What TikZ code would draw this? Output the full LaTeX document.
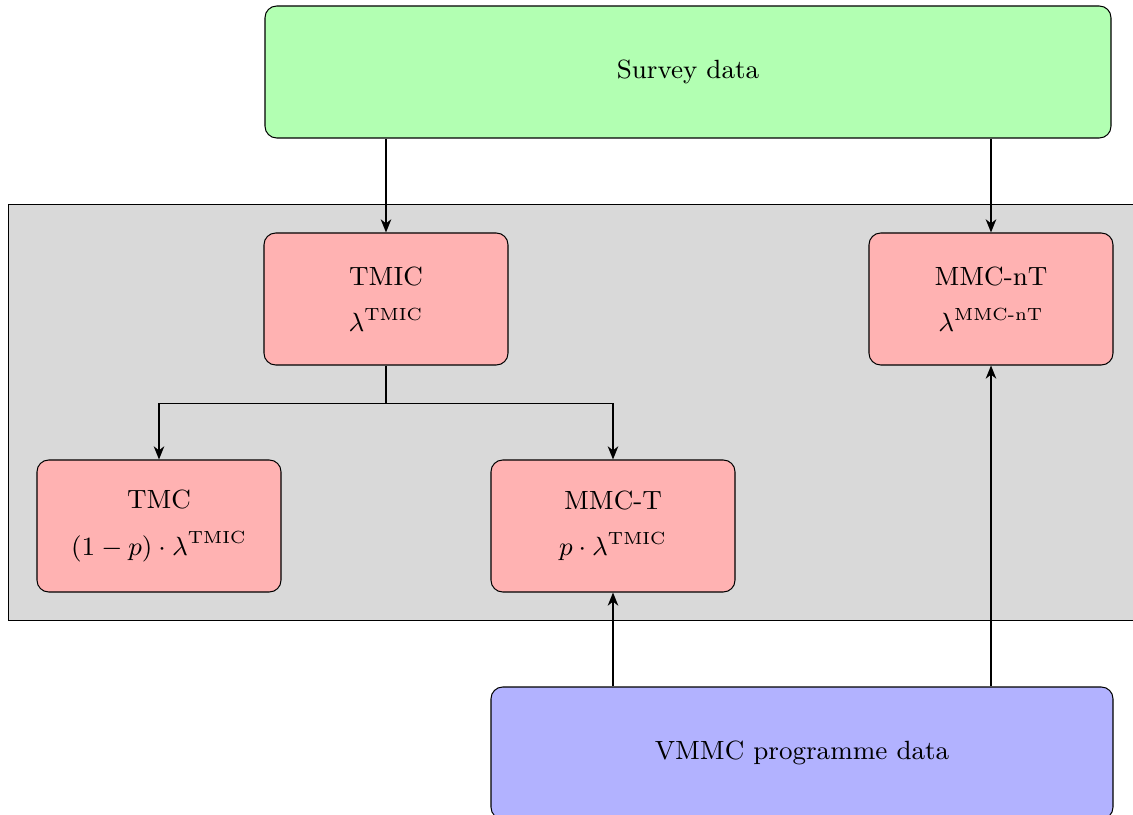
\documentclass[tikz,border=0pt]{standalone}
\usepackage{amsmath}
\usepackage{tikz}
\usetikzlibrary{arrows.meta,positioning}

\begin{document}
\begin{tikzpicture}[>={Stealth[length=4.5pt,width=3.6pt,inset=1.4pt]},
		box/.style={draw, line width=0.35pt, rounded corners, align=center, font=\small, minimum width=2.928cm, minimum height=1.584cm},
		est/.style={box, fill=red!30},
		link/.style={->, semithick}]
		\path[use as bounding box, clip] (0,0) rectangle (13.596,9.768);
		
		% Define nodes
		\node[box, fill=green!30, minimum width=10.152cm] (survey) at (8.256,8.904) {Survey data};
		\fill[gray!30] (0.096,2.328) rectangle (13.8,7.32);
		\draw[line width=0.3pt] (13.8,7.32) -- (0.096,7.32) -- (0.096,2.328) -- (13.8,2.328);
		\node[est] (tmic) at (4.632,6.18) {TMIC\\[4.8pt] \( \lambda^{\mathrm{TMIC}} \)};
		\node[est] (mmcnt) at (11.892,6.18) {MMC-nT\\[4.8pt] \( \lambda^{\text{MMC-nT}} \)};
		\node[est] (tmc) at (1.908,3.456) {TMC\\[4.8pt] \( (1-p)\cdot\lambda^{\mathrm{TMIC}} \)};
		\node[est] (mmct) at (7.356,3.456) {MMC-T\\[4.8pt] \( p\cdot\lambda^{\mathrm{TMIC}} \)};
		\node[box, fill=blue!30, minimum width=7.464cm] (vmmc) at (9.624,0.732) {VMMC programme data};
		
		% Draw arrows
		\draw[link] (survey.south -| tmic) -- (tmic);
		\draw[link] (survey.south -| mmcnt) -- (mmcnt);
		\draw[link] (tmic.south) -- ++(0,-0.456) -| (tmc.north);
		\draw[link] (tmic.south) -- ++(0,-0.456) -| (mmct.north);
		\draw[link] (vmmc.north -| mmct) -- (mmct);
		\draw[link] (vmmc.north -| mmcnt) -- (mmcnt);
	\end{tikzpicture}
\end{document}
